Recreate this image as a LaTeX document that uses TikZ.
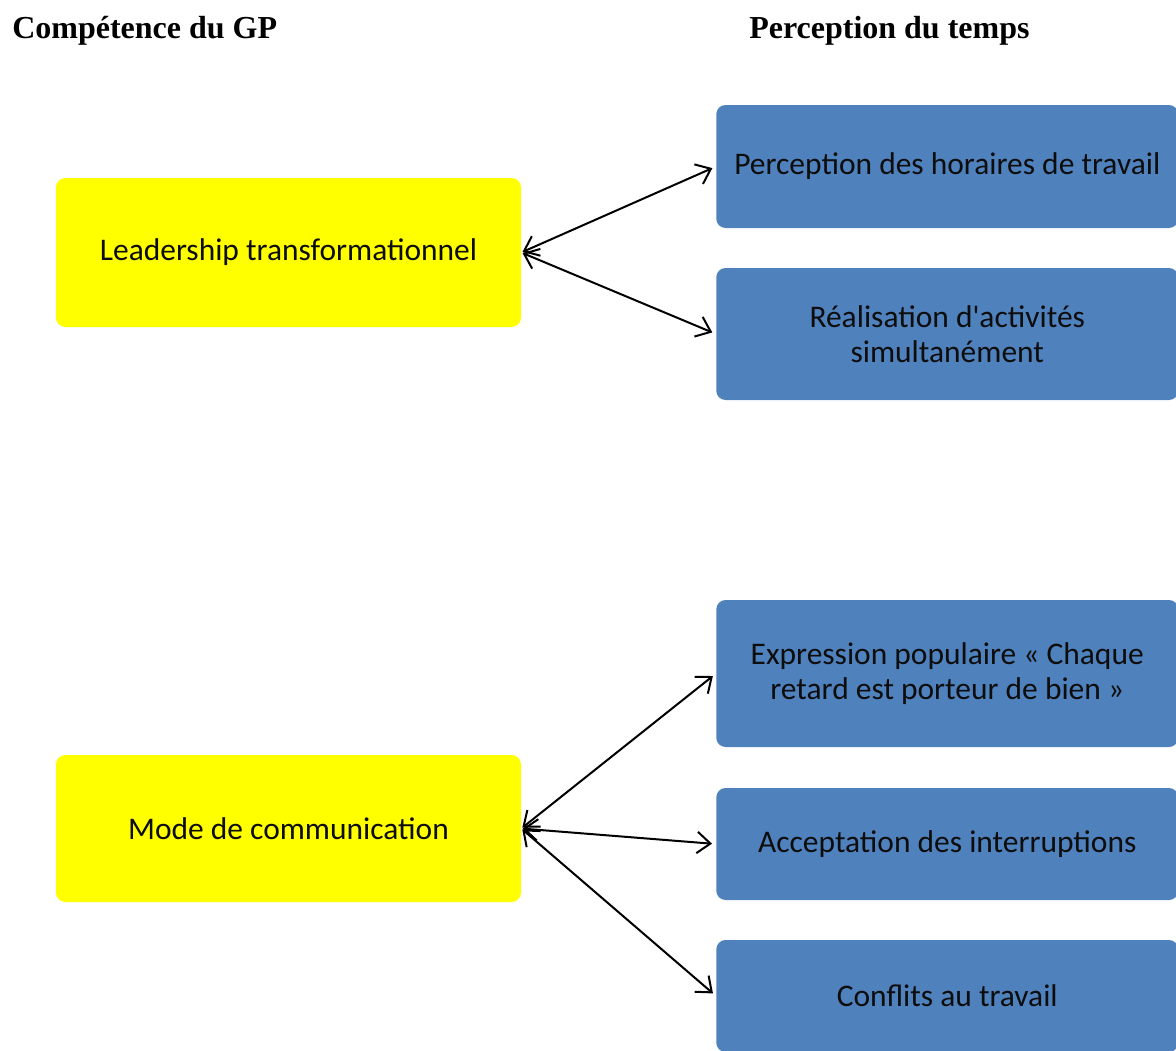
\documentclass[tikz,border=0pt]{standalone}
\usepackage{fontspec}
\setmainfont{Liberation Serif}
\newfontfamily\boxfont{Carlito}
\usetikzlibrary{positioning, arrows.meta}

\definecolor{boxyellow}{HTML}{FFFF00}
\definecolor{boxblue}{HTML}{4F81BD}
\definecolor{boxtext}{HTML}{0D0D0D}

\tikzset{
    compbox/.style={rectangle, rounded corners=7pt, fill=boxyellow, text=boxtext,
        minimum width=348.75pt, align=center, font=\boxfont\fontsize{23.6}{26}\selectfont},
    tempsbox/.style={rectangle, rounded corners=7pt, fill=boxblue, text=boxtext,
        anchor=west, minimum width=346.5pt, align=center, font=\boxfont\fontsize{23.6}{26}\selectfont},
    titre/.style={anchor=base west, inner sep=0pt, font=\bfseries\fontsize{24}{28}\selectfont},
    lien/.style={<->, line width=1.5pt, >={Straight Barb[length=10pt,width=16pt]},
        shorten >=3pt, shorten <=1pt}
}

\begin{document}
\begin{tikzpicture}[x=0.75pt, y=-0.75pt]
    \clip (0,0) rectangle (1176,1050);
    \useasboundingbox (0,0) rectangle (1176,1050);

    % Titres
    \node[titre] (tcomp) at (12,38) {Compétence du GP};
    \node[titre] (tperc) at (749,38) {Perception du temps};

    % Compétences du GP
    \node[compbox, minimum height=111.75pt] (lead) at (288.5,252.5) {Leadership transformationnel};
    \node[compbox, minimum height=110.25pt] (comm) at (288.5,828.5) {Mode de communication};

    % Perception du temps
    \node[tempsbox, minimum height=92.25pt] (hor) at (716,166.5) {Perception des horaires de travail};
    \node[tempsbox, minimum height=99pt] (simu) at (716,334) {Réalisation d'activités\\simultanément};
    \node[tempsbox, minimum height=110.25pt] (expr) at (716,673.5) {Expression populaire « Chaque\\retard est porteur de bien »};
    \node[tempsbox, minimum height=84pt] (inter) at (716,844) {Acceptation des interruptions};
    \node[tempsbox, minimum height=84pt] (conf) at (716,996) {Conflits au travail};

    % Liens
    \draw[lien] (lead.east) -- (hor.west);
    \draw[lien] (lead.east) -- (simu.west);
    \draw[lien] (comm.east) -- (expr.west);
    \draw[lien] (comm.east) -- (inter.west);
    \draw[lien] (comm.east) -- (conf.west);
\end{tikzpicture}
\end{document}
